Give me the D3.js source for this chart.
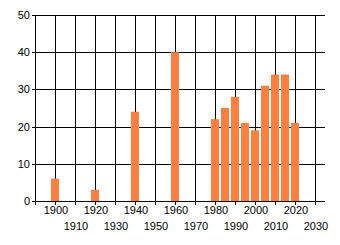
<!DOCTYPE html>
<html>
<head>
<meta charset="utf-8">
<script src="https://cdn.jsdelivr.net/npm/d3@7"></script>
<style>
  body { margin: 0; background: #fff; }
  text { font-family: "Liberation Sans", Arial, sans-serif; font-size: 11px; fill: #000; }
</style>
</head>
<body>
<script>
var years = [1900, 1920, 1940, 1960, 1980, 1985, 1990, 1995, 2000, 2005, 2010, 2015, 2020];
var counts = [6, 3, 24, 40, 22, 25, 28, 21, 19, 31, 34, 34, 21];
var xTicks = [1890, 1900, 1910, 1920, 1930, 1940, 1950, 1960, 1970, 1980, 1990, 2000, 2010, 2020, 2030];
var yTicks = [0, 10, 20, 30, 40, 50];

var svg = d3.select("body").append("svg")
  .attr("width", 340)
  .attr("height", 245);

var x = d3.scaleLinear().domain([1890, 2030]).range([35, 315]);
var y = d3.scaleLinear().domain([0, 50]).range([201, 15]);
var right = 325;

// horizontal grid + y ticks
svg.selectAll("line.h").data(yTicks).enter().append("line")
  .attr("x1", 32).attr("x2", right)
  .attr("y1", d => Math.round(y(d)) + 0.5).attr("y2", d => Math.round(y(d)) + 0.5)
  .attr("stroke", "#000");

// vertical grid + x ticks
svg.selectAll("line.v").data(xTicks).enter().append("line")
  .attr("x1", d => Math.round(x(d)) + 0.5).attr("x2", d => Math.round(x(d)) + 0.5)
  .attr("y1", y(50)).attr("y2", y(0) + 4)
  .attr("stroke", "#000");

// bars
svg.selectAll("rect").data(years).enter().append("rect")
  .attr("x", d => x(d) - 4)
  .attr("width", 8)
  .attr("y", (d, i) => y(counts[i]))
  .attr("height", (d, i) => y(0) - y(counts[i]))
  .attr("fill", "#ff7f3f");

// y labels
svg.selectAll("text.y").data(yTicks).enter().append("text")
  .attr("x", 30)
  .attr("y", d => y(d) + 4)
  .attr("text-anchor", "end")
  .text(d => d);

// x labels, staggered
svg.selectAll("text.x").data(xTicks.slice(1)).enter().append("text")
  .attr("x", d => x(d) + 1)
  .attr("y", (d, i) => i % 2 == 0 ? 214 : 230)
  .attr("text-anchor", "middle")
  .text(d => d);
</script>
</body>
</html>
